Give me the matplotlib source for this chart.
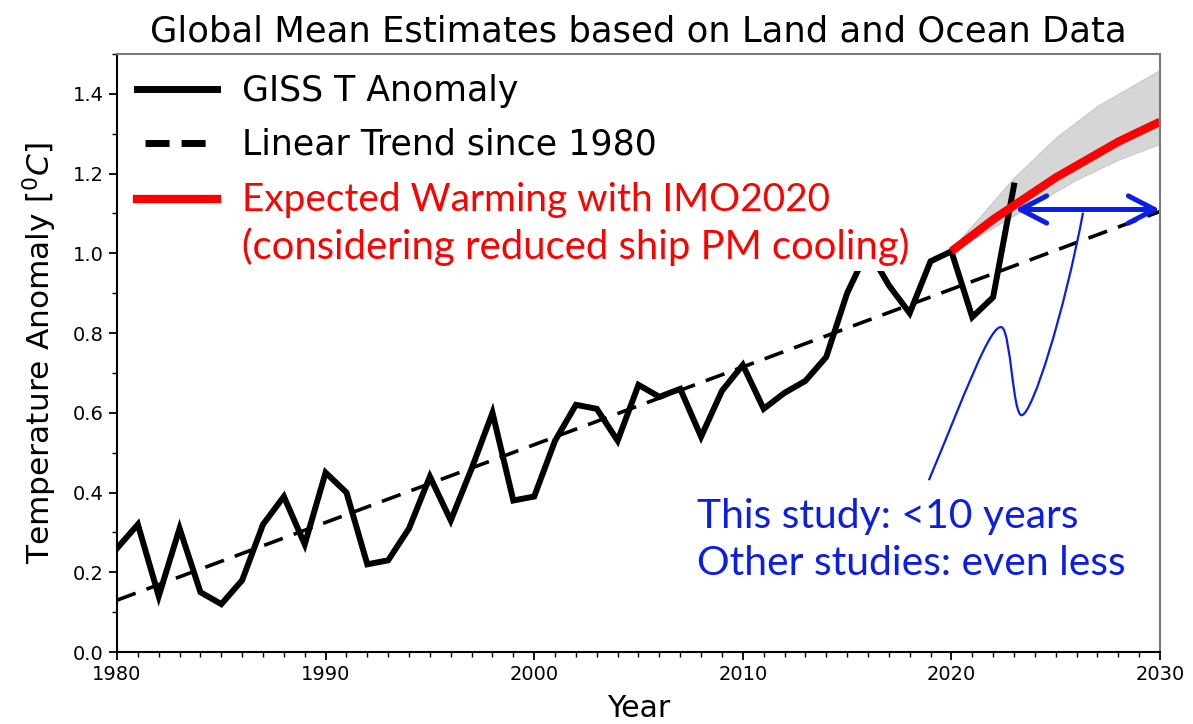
import matplotlib
matplotlib.use("Agg")
import matplotlib.pyplot as plt
import numpy as np
from matplotlib.lines import Line2D
from matplotlib.patches import FancyArrowPatch, PathPatch, ArrowStyle
from matplotlib.path import Path
from matplotlib.ticker import MultipleLocator

# GISS global mean land-ocean temperature anomaly (deg C)
years = list(range(1980, 2024))
giss_anomaly = [0.26, 0.32, 0.14, 0.31, 0.15, 0.12, 0.18, 0.32, 0.39, 0.27,
                0.45, 0.40, 0.22, 0.23, 0.31, 0.44, 0.33, 0.46, 0.60, 0.38,
                0.39, 0.53, 0.62, 0.61, 0.53, 0.67, 0.64, 0.66, 0.54, 0.655,
                0.72, 0.61, 0.65, 0.68, 0.74, 0.90, 1.01, 0.92, 0.85, 0.98,
                1.005, 0.84, 0.89, 1.17]

# Linear trend since 1980, extended to 2030
trend_years = [1980, 2030]
trend_values = [0.13, 1.105]

# Expected warming with IMO2020 and its uncertainty range
proj_years = list(range(2020, 2031))
proj_central = [1.005, 1.045, 1.085, 1.12, 1.155, 1.19, 1.22, 1.25, 1.28, 1.305, 1.33]
proj_upper = [1.01, 1.07, 1.13, 1.19, 1.24, 1.29, 1.33, 1.37, 1.40, 1.43, 1.46]
proj_lower = [1.00, 1.035, 1.065, 1.095, 1.125, 1.155, 1.185, 1.21, 1.235, 1.255, 1.275]

# Time-to-reach span shown by the double arrow
span_years = [2023.05, 2030]
span_level = 1.11

# Hand-drawn connector from the note to the arrow (start, controls..., end)
connector_x = [2018.92, 2020.6, 2021.9, 2022.43, 2022.85, 2022.95, 2023.38, 2023.9, 2025.4, 2026.31]
connector_y = [0.431, 0.64, 0.83, 0.814, 0.80, 0.59, 0.594, 0.60, 0.85, 1.102]

note_text = "This study: <10 years\nOther studies: even less"

BLUE = "#0a1ee6"
RED = "#ff0000"

fig = plt.figure(figsize=(11.93, 7.24), dpi=100)
ax = fig.add_axes([117 / 1193, 1 - 652 / 724, (1160 - 117) / 1193, (652 - 54) / 724])

ax.fill_between(proj_years, proj_lower, proj_upper, color="#d6d6d6",
                edgecolor="#c8c8c8", linewidth=0.8, zorder=1)
ax.plot(trend_years, trend_values, color="black", lw=2.6, dashes=(5.5, 3.2), zorder=2)
ax.plot(years, giss_anomaly, color="black", lw=4.3, solid_joinstyle="miter", zorder=3)
ax.plot(proj_years, proj_central, color=RED, lw=6, solid_capstyle="butt",
        solid_joinstyle="round", zorder=4)

arrow = FancyArrowPatch((span_years[0], span_level), (span_years[1], span_level),
                        arrowstyle=ArrowStyle("<->", head_length=1.35, head_width=0.7),
                        mutation_scale=14, color=BLUE, lw=3.6,
                        shrinkA=0, shrinkB=0, zorder=6, clip_on=False)
ax.add_patch(arrow)

codes = [Path.MOVETO] + [Path.CURVE4] * 9
conn = PathPatch(Path(np.column_stack([connector_x, connector_y]), codes),
                 facecolor="none", edgecolor=BLUE, lw=1.6, zorder=6)
ax.add_patch(conn)

ax.text(2007.8, 0.193, note_text, color=BLUE, fontsize=29.4, family="Lato",
        va="baseline", ha="left", linespacing=1.34, zorder=7)

ax.set_xlim(1980, 2030)
ax.set_ylim(0, 1.5)
ax.xaxis.set_major_locator(MultipleLocator(10))
ax.xaxis.set_minor_locator(MultipleLocator(1))
ax.yaxis.set_major_locator(MultipleLocator(0.2))
ax.yaxis.set_minor_locator(MultipleLocator(0.1))
ax.set_yticks(np.arange(0, 1.41, 0.2))
ax.tick_params(which="major", length=6, width=1.3, labelsize=14, direction="out")
ax.tick_params(which="minor", length=3.5, width=1.0, direction="out")
for s in ("left", "bottom"):
    ax.spines[s].set_linewidth(1.5)
    ax.spines[s].set_color("black")
for s in ("top", "right"):
    ax.spines[s].set_linewidth(1.5)
    ax.spines[s].set_color("#7a7a7a")
for sp in ax.spines.values():
    sp.set_zorder(8)

ax.set_xlabel("Year", fontsize=21.5, labelpad=7)
ax.set_ylabel(r"Temperature Anomaly [$^0C$]", fontsize=22.5, labelpad=10)
ax.set_title("Global Mean Estimates based on Land and Ocean Data", fontsize=25.5, pad=9)

lw_dash = 5
handles = [Line2D([], [], color="black", lw=5),
           Line2D([], [], color="black", lw=lw_dash, linestyle=(4.03, (3.46, 1.73))),
           Line2D([], [], color=RED, lw=6)]
labels = ["GISS T Anomaly", "Linear Trend since 1980", "Expected Warming with IMO2020"]
leg = ax.legend(handles, labels, loc="upper left", bbox_to_anchor=(0, 1),
                borderaxespad=0, borderpad=0.57, fontsize=25, handlelength=2.3,
                handletextpad=0.72, labelspacing=0.58, frameon=True,
                facecolor="white", edgecolor="none", framealpha=1, fancybox=False)
leg.set_zorder(5)
red_label = leg.get_texts()[2]
red_label.set_color(RED)
red_label.set_family("Lato")
red_label.set_fontsize(27.9)

ax.annotate("(considering reduced ship PM cooling)", xy=(0, 0), xycoords=red_label,
            xytext=(0, -7), textcoords="offset points", va="top", ha="left",
            color=RED, fontsize=28.8, family="Lato", zorder=5.5,
            bbox=dict(boxstyle="square,pad=0.12", fc="white", ec="none"))

fig.savefig("out.png", dpi=100)
